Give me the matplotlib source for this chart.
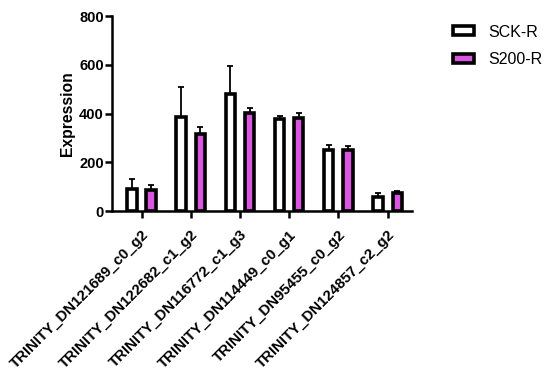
import matplotlib
matplotlib.use("Agg")
import matplotlib.pyplot as plt
import numpy as np

categories = ["TRINITY_DN121689_c0_g2", "TRINITY_DN122682_c1_g2", "TRINITY_DN116772_c1_g3",
              "TRINITY_DN114449_c0_g1", "TRINITY_DN95455_c0_g2", "TRINITY_DN124857_c2_g2"]
sck_r = [91, 384, 479, 377, 250, 59]
sck_r_err = [40, 123, 117, 14, 22, 16]
s200_r = [85, 315, 401, 380, 249, 74]
s200_r_err = [22, 31, 23, 21, 18, 9]
series_names = ["SCK-R", "S200-R"]

plt.rcParams['font.family'] = ['Liberation Sans', 'DejaVu Sans']

fig = plt.figure(figsize=(5.5, 3.73), dpi=100)
ax = fig.add_axes([0.2036, 0.4343, 0.545, 0.5227])

x = np.arange(len(categories))
w = 0.19
off = 0.195
purple = '#D957E0'
ekw = dict(ecolor='black', elinewidth=1.3, capsize=2.5, capthick=1.3)
ax.bar(x - off, sck_r, width=w, color='white', edgecolor='black', linewidth=2.6,
       yerr=[np.zeros(len(x)), sck_r_err], error_kw=ekw,
       label=series_names[0], zorder=3)
ax.bar(x + off, s200_r, width=w, color=purple, edgecolor='black', linewidth=2.6,
       yerr=[np.zeros(len(x)), s200_r_err], error_kw=ekw,
       label=series_names[1], zorder=3)

ax.set_xlim(-0.6, 5.49)
ax.set_ylim(0, 800)
ax.set_yticks([0, 200, 400, 600, 800])
ax.set_xticks(x)
ax.set_xticklabels(categories, rotation=45, ha='right', rotation_mode='anchor',
                   fontsize=10.8, fontweight='bold')
for lab in ax.get_yticklabels():
    lab.set_fontweight('bold')
ax.tick_params(axis='y', labelsize=10.5, width=1.8, length=5, pad=1)
ax.tick_params(axis='x', width=1.8, length=5, pad=7)
ax.set_ylabel('Expression', fontsize=11.3, fontweight='bold', labelpad=3)

for s in ['top', 'right']:
    ax.spines[s].set_visible(False)
for s in ['left', 'bottom']:
    ax.spines[s].set_linewidth(1.8)

leg = ax.legend(loc='upper left', bbox_to_anchor=(1.09, 1.03), frameon=False,
                fontsize=11.5, handlelength=1.3, handleheight=0.5, labelspacing=0.8, handletextpad=0.9)

fig.savefig('out.png', dpi=100)
